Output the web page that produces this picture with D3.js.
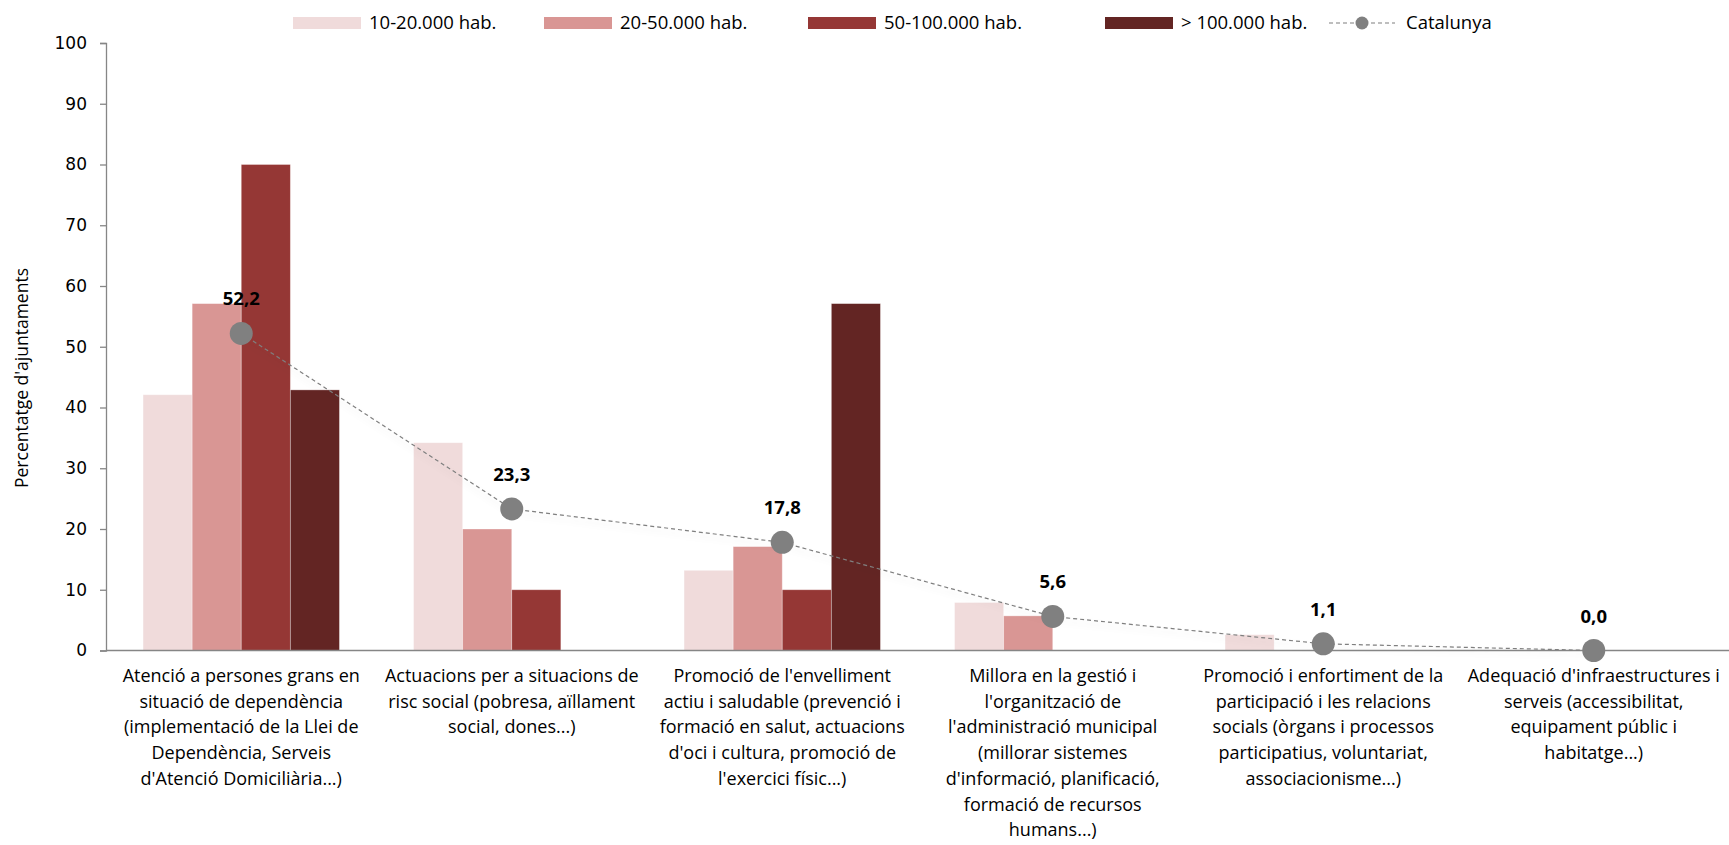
<!DOCTYPE html>
<html>
<head>
<meta charset="utf-8">
<script src="https://cdn.jsdelivr.net/npm/d3@7"></script>
<style>
  body { margin: 0; background: #fff; }
  text { font-family: "Open Sans", sans-serif; }
</style>
</head>
<body>
<script>
// Dades
var categories = [
  ["Atenció a persones grans en", "situació de dependència", "(implementació de la Llei de", "Dependència, Serveis", "d'Atenció Domiciliària...)"],
  ["Actuacions per a situacions de", "risc social (pobresa, aïllament", "social, dones...)"],
  ["Promoció de l'envelliment", "actiu i saludable (prevenció i", "formació en salut, actuacions", "d'oci i cultura, promoció de", "l'exercici físic...)"],
  ["Millora en la gestió i", "l'organització de", "l'administració municipal", "(millorar sistemes", "d'informació, planificació,", "formació de recursos", "humans...)"],
  ["Promoció i enfortiment de la", "participació i les relacions", "socials (òrgans i processos", "participatius, voluntariat,", "associacionisme...)"],
  ["Adequació d'infraestructures i", "serveis (accessibilitat,", "equipament públic i", "habitatge...)"]
];
var series = ["10-20.000 hab.", "20-50.000 hab.", "50-100.000 hab.", "> 100.000 hab."];
var colors = ["#f0dbdb", "#d99694", "#953735", "#632523"];
var v10_20 = [42.1, 34.2, 13.2, 7.9, 2.6, 0];
var v20_50 = [57.1, 20.0, 17.1, 5.7, 0, 0];
var v50_100 = [80.0, 10.0, 10.0, 0, 0, 0];
var v100 = [42.9, 0, 57.1, 0, 0, 0];
var catalunya = [52.2, 23.3, 17.8, 5.6, 1.1, 0.0];
var yTicks = [0, 10, 20, 30, 40, 50, 60, 70, 80, 90, 100];

var valors = [v10_20, v20_50, v50_100, v100];

var w = 1729, h = 845;
var svg = d3.select("body").append("svg")
  .attr("width", w)
  .attr("height", h);

// ombra suau de la línia
var defs = svg.append("defs");
var f = defs.append("filter").attr("id", "ombra")
  .attr("x", "-5%").attr("y", "-50%").attr("width", "110%").attr("height", "200%");
f.append("feDropShadow").attr("dx", 0).attr("dy", 4).attr("stdDeviation", 3)
  .attr("flood-color", "#000").attr("flood-opacity", 0.12);

var x0 = d3.scaleBand()
  .domain(d3.range(categories.length))
  .range([106, 1729])
  .padding(0);
var gw = x0.bandwidth() * 0.726;
var x1 = d3.scaleBand()
  .domain(d3.range(series.length))
  .range([0, gw])
  .padding(0);
var y = d3.scaleLinear().domain([0, 100]).range([650.5, 43]);

// Eix Y
var yAxis = svg.append("g")
  .attr("transform", "translate(106,0)")
  .call(d3.axisLeft(y).tickValues(yTicks).tickSize(6).tickPadding(13));
yAxis.select(".domain").attr("stroke", "#868686").attr("stroke-width", 1.3);
yAxis.selectAll(".tick line").attr("stroke", "#868686").attr("stroke-width", 1.3);
yAxis.selectAll(".tick text")
  .style("font-family", "'DejaVu Sans', sans-serif")
  .style("font-size", "17px")
  .attr("fill", "#000");

svg.append("text")
  .attr("transform", "translate(23,378) rotate(-90)")
  .attr("text-anchor", "middle")
  .attr("dominant-baseline", "middle")
  .style("font-size", "17.5px")
  .text("Percentatge d'ajuntaments");

// Barres
series.forEach(function(s, si) {
  svg.append("g").selectAll("rect")
    .data(valors[si])
    .enter()
    .append("rect")
      .attr("x", function(d, i) { return x0(i) + (x0.bandwidth() - gw) / 2 + x1(si); })
      .attr("y", function(d) { return y(d); })
      .attr("width", x1.bandwidth())
      .attr("height", function(d) { return y(0) - y(d); })
      .attr("fill", colors[si])
      .attr("stroke", "#fff")
      .attr("stroke-opacity", 0.4)
      .attr("stroke-width", 0.8);
});

// Eix X
svg.append("line")
  .attr("x1", 106).attr("x2", 1729)
  .attr("y1", y(0)).attr("y2", y(0))
  .attr("stroke", "#868686").attr("stroke-width", 1.5);

// Etiquetes de categoria
categories.forEach(function(lines, i) {
  var t = svg.append("text")
    .attr("text-anchor", "middle")
    .style("font-size", "18px")
    .attr("fill", "#000");
  lines.forEach(function(l, j) {
    t.append("tspan")
      .attr("x", x0(i) + x0.bandwidth() / 2)
      .attr("y", 682 + j * 25.7)
      .text(l);
  });
});

// Línia Catalunya
var cx = function(d, i) { return x0(i) + x0.bandwidth() / 2; };
var line = d3.line()
  .x(function(d, i) { return cx(d, i); })
  .y(function(d) { return y(d); });

svg.append("path")
  .datum(catalunya)
  .attr("d", line)
  .attr("fill", "none")
  .attr("stroke", "#7f7f7f")
  .attr("stroke-width", 1.2)
  .attr("stroke-dasharray", "4,3")
  .attr("filter", "url(#ombra)");

svg.append("g").selectAll("circle")
  .data(catalunya)
  .enter()
  .append("circle")
    .attr("cx", cx)
    .attr("cy", function(d) { return y(d); })
    .attr("r", 11.5)
    .attr("fill", "#808080");

svg.append("g").selectAll("text")
  .data(catalunya)
  .enter()
  .append("text")
    .attr("x", cx)
    .attr("y", function(d) { return y(d) - 28; })
    .attr("text-anchor", "middle")
    .style("font-size", "18.5px")
    .style("font-weight", "bold")
    .text(function(d) { return d.toFixed(1).replace(".", ","); });

// Llegenda
var legX = [293, 544, 808, 1105];
series.forEach(function(s, si) {
  svg.append("rect")
    .attr("x", legX[si]).attr("y", 17)
    .attr("width", 68).attr("height", 12)
    .attr("fill", colors[si]);
  svg.append("text")
    .attr("x", legX[si] + 76).attr("y", 24)
    .attr("dominant-baseline", "middle")
    .style("font-size", "18.5px")
    .text(s);
});
svg.append("line")
  .attr("x1", 1329).attr("x2", 1395)
  .attr("y1", 23).attr("y2", 23)
  .attr("stroke", "#7f7f7f").attr("stroke-width", 1.2)
  .attr("stroke-dasharray", "4,3");
svg.append("circle")
  .attr("cx", 1362).attr("cy", 23).attr("r", 6.5)
  .attr("fill", "#808080");
svg.append("text")
  .attr("x", 1406).attr("y", 24)
  .attr("dominant-baseline", "middle")
  .style("font-size", "18.5px")
  .text("Catalunya");
</script>
</body>
</html>
